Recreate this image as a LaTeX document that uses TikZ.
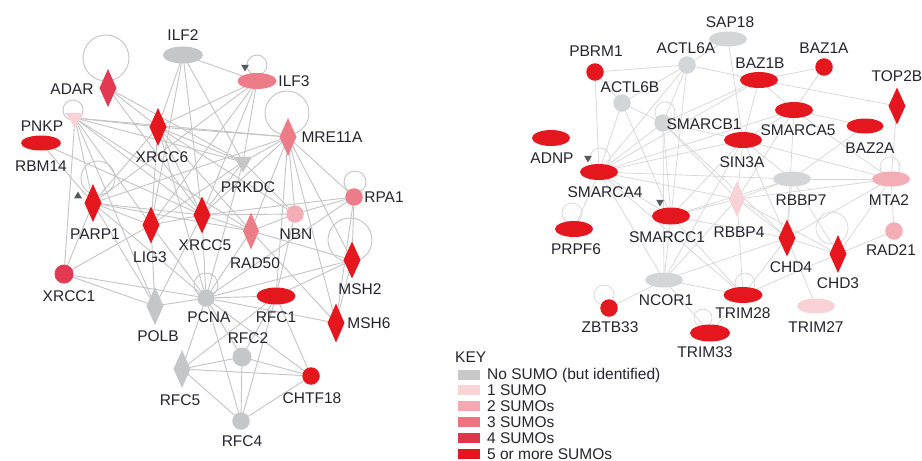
\documentclass[tikz,border=0pt]{standalone}
\usepackage{fontspec}
\setmainfont{Liberation Sans}
\usetikzlibrary{shapes.geometric,backgrounds}
\definecolor{gryL}{HTML}{C5C6C8}
\definecolor{gryR}{HTML}{D3D6D9}
\definecolor{sA}{HTML}{F8D2D7}
\definecolor{sB}{HTML}{F3AEB5}
\definecolor{sC}{HTML}{EC7D88}
\definecolor{sD}{HTML}{E13A52}
\definecolor{sE}{HTML}{E4171F}
\definecolor{txt}{HTML}{24242E}
\definecolor{edgeL}{HTML}{C4C4C4}
\definecolor{edgeR}{HTML}{D6D6D6}
\definecolor{tipc}{HTML}{555A60}
\definecolor{keygry}{HTML}{C8C8C8}
\definecolor{keyA}{HTML}{F9D3D8}
\definecolor{keyB}{HTML}{F4A8B0}
\definecolor{keyC}{HTML}{EC7480}
\definecolor{keyD}{HTML}{E3354A}
\definecolor{keyE}{HTML}{E5141F}
\tikzset{
  base/.style={draw=none, inner sep=0pt, outer sep=0pt},
  ell/.style={base, ellipse, minimum width=39pt, minimum height=16pt},
  dia/.style={base, diamond, minimum width=17pt, minimum height=38pt},
  circ/.style={base, circle, minimum size=17.5pt},
  tri/.style={base, regular polygon, regular polygon sides=3, shape border rotate=180, minimum size=21pt},
  tipmark/.style={base, regular polygon, regular polygon sides=3, minimum size=9pt, fill=tipc},
  lbl/.style={inner sep=0pt, font=\fontsize{15.5}{16}\selectfont, text=txt},
  keylbl/.style={inner sep=0pt, anchor=west, font=\fontsize{15.5}{16}\selectfont, text=txt},
  swatch/.style={base, minimum width=22pt, minimum height=10pt},
  eL/.style={draw=edgeL, line width=0.9pt},
  eR/.style={draw=edgeR, line width=0.7pt},
}
\begin{document}
\begin{tikzpicture}[x=1pt,y=-1pt]
\useasboundingbox (0,0) rectangle (922,461);
% ---------------- left network nodes
\node[ell, fill=gryL, minimum height=17pt, minimum width=40pt] (ilf2) at (183,55) {};
\node[ell, fill=sC] (ilf3) at (257,81) {};
\node[dia, fill=sD] (adar) at (108,88) {};
\node[tri, fill=sA] (pnkp) at (75,118) {};
\node[ell, fill=sE, minimum height=15pt, minimum width=40pt] (rbm14) at (41,143) {};
\node[dia, fill=sE] (xrcc6) at (158,127) {};
\node[tri, fill=gryL] (prkdc) at (243,162) {};
\node[dia, fill=sC] (mre11a) at (288,137) {};
\node[circ, fill=sC] (rpa1) at (354,197) {};
\node[circ, fill=sB] (nbn) at (295,214) {};
\node[dia, fill=sC, minimum width=16pt, minimum height=37pt] (rad50) at (251,231) {};
\node[dia, fill=sE, minimum height=37pt] (xrcc5) at (202,215) {};
\node[dia, fill=sE, minimum height=37pt] (lig3) at (151,225) {};
\node[dia, fill=sE] (parp1) at (93,203) {};
\node[circ, fill=sD, minimum size=19pt] (xrcc1) at (64,274) {};
\node[dia, fill=gryL] (polb) at (155,306) {};
\node[circ, fill=gryL] (pcna) at (206,298) {};
\node[ell, fill=sE, minimum height=17pt] (rfc1) at (276,296) {};
\node[circ, fill=gryL, minimum size=19pt] (rfc2) at (242,357) {};
\node[dia, fill=gryL] (rfc5) at (182,369) {};
\node[circ, fill=gryL] (rfc4) at (241,421) {};
\node[circ, fill=sE] (chtf18) at (311,376) {};
\node[dia, fill=sE, minimum height=37pt] (msh2) at (352,260) {};
\node[dia, fill=sE, minimum height=39pt] (msh6) at (336,323) {};
\node[tipmark, shape border rotate=180] (tipilf3) at (245,67) {};
\node[tipmark] (tipparp1) at (78,196) {};
% left labels
\node[lbl] (l-ilf2) at (183,35) {ILF2};
\node[lbl] (l-ilf3) at (294,81) {ILF3};
\node[lbl] (l-adar) at (72,89) {ADAR};
\node[lbl] (l-pnkp) at (42,126) {PNKP};
\node[lbl] (l-rbm14) at (41,166) {RBM14};
\node[lbl] (l-xrcc6) at (162,157) {XRCC6};
\node[lbl] (l-prkdc) at (248,187) {PRKDC};
\node[lbl] (l-mre11a) at (332,137) {MRE11A};
\node[lbl] (l-rpa1) at (384,197) {RPA1};
\node[lbl] (l-nbn) at (296,234) {NBN};
\node[lbl] (l-rad50) at (255,263) {RAD50};
\node[lbl] (l-xrcc5) at (205,245) {XRCC5};
\node[lbl] (l-lig3) at (150,257) {LIG3};
\node[lbl] (l-parp1) at (95,234) {PARP1};
\node[lbl] (l-xrcc1) at (69,296) {XRCC1};
\node[lbl] (l-polb) at (158,336) {POLB};
\node[lbl] (l-pcna) at (209,317) {PCNA};
\node[lbl] (l-rfc1) at (276,317) {RFC1};
\node[lbl] (l-rfc2) at (248,338) {RFC2};
\node[lbl] (l-rfc5) at (180,400) {RFC5};
\node[lbl] (l-chtf18) at (312,398) {CHTF18};
\node[lbl] (l-rfc4) at (242,441) {RFC4};
\node[lbl] (l-msh2) at (360,289) {MSH2};
\node[lbl] (l-msh6) at (369,323) {MSH6};
% ---------------- right network nodes
\node[ell, fill=gryR, minimum height=15pt, minimum width=38pt] (sap18) at (728,39) {};
\node[circ, fill=gryR] (actl6a) at (687,65) {};
\node[circ, fill=sE] (pbrm1) at (595,72) {};
\node[circ, fill=sE] (baz1a) at (824,67) {};
\node[ell, fill=sE, minimum width=38pt] (baz1b) at (759,80) {};
\node[circ, fill=gryR] (actl6b) at (622,103) {};
\node[dia, fill=sE, minimum height=37pt] (top2b) at (897,106) {};
\node[ell, fill=sE, minimum width=38pt] (smarca5) at (794,110) {};
\node[ell, fill=sE, minimum width=37pt, minimum height=15pt] (baz2a) at (865,126) {};
\node[circ, fill=gryR] (smarcb1) at (663,123) {};
\node[ell, fill=sE, minimum width=38pt] (sin3a) at (743,140) {};
\node[ell, fill=sE, minimum width=38pt] (adnp) at (551,138) {};
\node[ell, fill=sE, minimum width=38pt] (smarca4) at (599,172) {};
\node[ell, fill=gryR, minimum width=38pt, minimum height=15pt] (rbbp7) at (792,179) {};
\node[ell, fill=sB, minimum width=38pt, minimum height=15pt] (mta2) at (891,179) {};
\node[dia, fill=sA, minimum width=16pt, minimum height=36pt] (rbbp4) at (737,199) {};
\node[ell, fill=sE, minimum width=38pt, minimum height=17pt] (smarcc1) at (671,216) {};
\node[ell, fill=sE, minimum width=38pt] (prpf6) at (574,229) {};
\node[dia, fill=sE, minimum height=37pt] (chd4) at (787,238) {};
\node[dia, fill=sE] (chd3) at (838,254) {};
\node[circ, fill=sB] (rad21) at (894,231) {};
\node[ell, fill=gryR, minimum width=38pt, minimum height=15pt] (ncor1) at (664,280) {};
\node[circ, fill=sE] (zbtb33) at (609,308) {};
\node[ell, fill=sE] (trim28) at (743,295) {};
\node[ell, fill=sA, minimum width=38pt, minimum height=15pt] (trim27) at (816,306) {};
\node[ell, fill=sE, minimum width=40pt, minimum height=17pt] (trim33) at (710,333) {};
\node[tipmark, shape border rotate=180] (tipsmarca4) at (588,158) {};
\node[tipmark, shape border rotate=180] (tipsmarcc1) at (660,202) {};
% right labels
\node[lbl] (l-sap18) at (730,22) {SAP18};
\node[lbl] (l-actl6a) at (686,48) {ACTL6A};
\node[lbl] (l-pbrm1) at (596,51) {PBRM1};
\node[lbl] (l-baz1a) at (824,48) {BAZ1A};
\node[lbl] (l-baz1b) at (760,63) {BAZ1B};
\node[lbl] (l-actl6b) at (630,87) {ACTL6B};
\node[lbl] (l-top2b) at (897,76) {TOP2B};
\node[lbl] (l-smarca5) at (798,130) {SMARCA5};
\node[lbl] (l-baz2a) at (870,148) {BAZ2A};
\node[lbl] (l-smarcb1) at (704,124) {SMARCB1};
\node[lbl] (l-sin3a) at (742,162) {SIN3A};
\node[lbl] (l-adnp) at (552,158) {ADNP};
\node[lbl] (l-smarca4) at (605,192) {SMARCA4};
\node[lbl] (l-rbbp7) at (801,200) {RBBP7};
\node[lbl] (l-mta2) at (889,200) {MTA2};
\node[lbl] (l-rbbp4) at (739,232) {RBBP4};
\node[lbl] (l-smarcc1) at (667,237) {SMARCC1};
\node[lbl] (l-prpf6) at (576,249) {PRPF6};
\node[lbl] (l-chd4) at (791,267) {CHD4};
\node[lbl] (l-chd3) at (838,283) {CHD3};
\node[lbl] (l-rad21) at (891,250) {RAD21};
\node[lbl] (l-ncor1) at (666,300) {NCOR1};
\node[lbl] (l-zbtb33) at (610,327) {ZBTB33};
\node[lbl] (l-trim28) at (743,313) {TRIM28};
\node[lbl] (l-trim27) at (816,327) {TRIM27};
\node[lbl] (l-trim33) at (705,352) {TRIM33};
% ---------------- key
\node[keylbl] (keyt) at (455,357) {KEY};
\node[swatch, fill=keygry] (k0) at (469,375) {};
\node[swatch, fill=keyA] (k1) at (469,390) {};
\node[swatch, fill=keyB] (k2) at (469,406) {};
\node[swatch, fill=keyC] (k3) at (469,422) {};
\node[swatch, fill=keyD] (k4) at (469,438) {};
\node[swatch, fill=keyE] (k5) at (469,454) {};
\node[keylbl] (kt0) at (487,375) {No SUMO (but identified)};
\node[keylbl] (kt1) at (487,390) {1 SUMO};
\node[keylbl] (kt2) at (487,406) {2 SUMOs};
\node[keylbl] (kt3) at (487,422) {3 SUMOs};
\node[keylbl] (kt4) at (487,438) {4 SUMOs};
\node[keylbl] (kt5) at (487,454) {5 or more SUMOs};
% ---------------- connectors
\begin{scope}[on background layer]
\fill[white] (0,0) rectangle (922,461);
\foreach \a/\b in {ilf2/ilf3, ilf2/xrcc6, ilf2/prkdc, ilf2/xrcc5, ilf2/lig3,
  ilf3/xrcc6, ilf3/prkdc, ilf3/xrcc5, ilf3/parp1, ilf3/lig3,
  adar/xrcc6, adar/prkdc, adar/xrcc5,
  pnkp/xrcc6, pnkp/mre11a, pnkp/parp1, pnkp/lig3, pnkp/xrcc5, pnkp/polb, pnkp/xrcc1, pnkp/prkdc, pnkp/rad50,
  rbm14/xrcc5, rbm14/parp1,
  xrcc6/xrcc5, xrcc6/prkdc, xrcc6/lig3, xrcc6/parp1, xrcc6/pcna, xrcc6/rad50, xrcc6/mre11a, xrcc6/nbn,
  mre11a/rad50, mre11a/nbn, mre11a/rpa1, mre11a/msh2, mre11a/msh6, mre11a/prkdc, mre11a/xrcc5, mre11a/parp1, mre11a/rfc1,
  prkdc/xrcc5, prkdc/lig3, prkdc/nbn, prkdc/pcna,
  rpa1/nbn, rpa1/xrcc5, rpa1/msh2, rpa1/msh6, rpa1/pcna,
  nbn/rad50, nbn/xrcc5, nbn/rfc1,
  rad50/xrcc5, rad50/parp1, rad50/msh2, rad50/msh6, rad50/pcna,
  xrcc5/parp1, xrcc5/lig3, xrcc5/pcna, xrcc5/polb,
  lig3/parp1, lig3/xrcc1, lig3/polb, lig3/pcna,
  parp1/xrcc1, parp1/polb, parp1/pcna,
  xrcc1/polb, xrcc1/pcna, polb/pcna,
  pcna/rfc1, pcna/rfc2, pcna/rfc5, pcna/rfc4, pcna/chtf18, pcna/msh2, pcna/msh6,
  rfc1/rfc2, rfc1/rfc5, rfc1/rfc4, rfc1/chtf18, rfc1/msh2,
  rfc2/rfc5, rfc2/rfc4, rfc2/chtf18,
  rfc5/rfc4, rfc5/chtf18, rfc4/chtf18, msh2/msh6}
  \draw[eL] (\a) -- (\b);
\foreach \a/\b in {sap18/sin3a, sap18/actl6a,
  actl6a/pbrm1, actl6a/baz1b, actl6a/actl6b, actl6a/smarcb1, actl6a/smarca4, actl6a/smarcc1,
  pbrm1/smarca4, pbrm1/actl6b,
  actl6b/smarca4, actl6b/smarcc1, actl6b/smarcb1,
  baz1b/baz1a, baz1b/smarca5, baz1b/top2b, baz1b/smarcb1, baz1b/smarca4, baz1b/sin3a,
  baz1a/smarca5,
  smarca5/baz2a, smarca5/sin3a, smarca5/smarca4, smarca5/chd4, smarca5/rbbp4, smarca5/mta2,
  top2b/mta2, baz2a/rbbp7,
  smarcb1/smarca4, smarcb1/smarcc1, smarcb1/ncor1, smarcb1/sin3a, smarcb1/rbbp4, smarcb1/chd4,
  sin3a/smarca4, sin3a/rbbp4, sin3a/rbbp7, sin3a/smarcc1, sin3a/ncor1, sin3a/chd4, sin3a/mta2,
  smarca4/smarcc1, smarca4/prpf6, smarca4/rbbp4, smarca4/rbbp7, smarca4/ncor1, smarca4/trim28,
  rbbp7/mta2, rbbp7/rbbp4, rbbp7/chd4, rbbp7/chd3, rbbp7/smarcc1,
  mta2/rbbp4, mta2/chd4, mta2/chd3, mta2/rad21,
  rbbp4/chd4, rbbp4/chd3, rbbp4/smarcc1, rbbp4/ncor1, rbbp4/trim28,
  smarcc1/ncor1, smarcc1/trim28, smarcc1/chd4,
  chd4/chd3, chd4/trim27, chd4/trim28, chd4/ncor1,
  chd3/rad21, chd3/trim28,
  ncor1/zbtb33, ncor1/trim28, ncor1/trim33, trim28/trim33}
  \draw[eR] (\a) -- (\b);
% self loops
\draw[eL] (adar) ++(-2,-30) circle[radius=23];
\draw[eL] (pnkp) ++(-2,-8) circle[radius=10];
\draw[eL] (parp1) ++(5,-25) circle[radius=17];
\draw[eL] (ilf3) ++(0,-16) circle[radius=10];
\draw[eL] (mre11a) ++(-1,-24) circle[radius=22];
\draw[eL] (rpa1) ++(1,-15) circle[radius=11];
\draw[eL] (msh2) ++(-2,-20) circle[radius=22];
\draw[eL] (pcna) ++(0,-13) circle[radius=12];
\draw[eR] (smarca4) ++(1,-14) circle[radius=10];
\draw[eR] (smarcb1) ++(2,-11) circle[radius=10];
\draw[eR] (prpf6) ++(-2,-16) circle[radius=10];
\draw[eR] (mta2) ++(-1,-12) circle[radius=10];
\draw[eR] (chd3) ++(-6,-26) circle[radius=16];
\draw[eR] (trim28) ++(2,-12) circle[radius=10];
\draw[eR] (zbtb33) ++(-5,-13) circle[radius=10];
\draw[eR] (trim33) ++(-7,-15) circle[radius=9];
\end{scope}
\end{tikzpicture}
\end{document}
